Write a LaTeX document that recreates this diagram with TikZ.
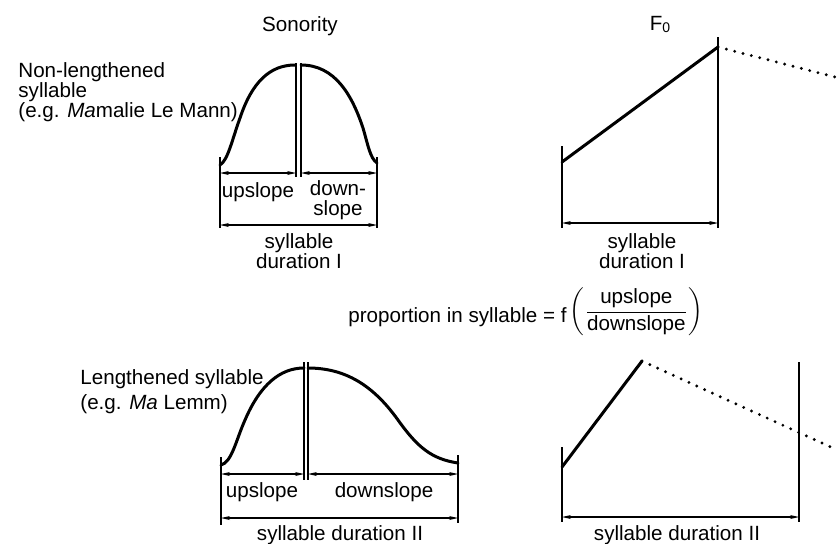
\documentclass[tikz,border=0pt]{standalone}
\usepackage{fontspec}
\setmainfont{Liberation Sans}
\usepackage{amsmath}
\usetikzlibrary{arrows.meta,positioning}

\begin{document}
\begin{tikzpicture}[
    x={(0.5pt,0)}, y={(0,-0.5pt)},
    % Style definitions
    txt/.style={font=\fontsize{10.3}{9.8}\selectfont, inner sep=0pt},
    curve/.style={line width=1.5pt, line cap=round},
    tick/.style={line width=0.6pt},
    dim/.style={{Stealth[length=4.5pt,width=2pt]}-{Stealth[length=4.5pt,width=2pt]}, line width=0.6pt},
    dotline/.style={line width=1.6pt, line cap=round, dash pattern=on 0pt off 4.3pt}
]
\useasboundingbox (0,0) rectangle (838,543);

% Titles
\node[txt, anchor=base] (sonority) at (300,31) {Sonority};
\node[txt, anchor=base] (fzero) at (660,30) {F\raisebox{-0.25ex}{\fontsize{7}{8}\selectfont 0}};

% Upper row: non-lengthened syllable
\node[txt, anchor=base west, align=left] (nonlen) at (18,117) {Non-lengthened\\syllable\\(e.g. \textit{Ma}malie Le Mann)};

\coordinate (a1) at (220,165);
\coordinate (a2) at (295,65);
\coordinate (a3) at (301,65);
\coordinate (a4) at (377,163);
\draw[curve] (a1) .. controls (228,160) and (232,140) .. (240,118) .. controls (252,82) and (270,65) .. (a2);
\draw[curve] (a3) .. controls (335,65) and (352,95) .. (363,128) .. controls (368,145) and (370,158) .. (a4);

\coordinate (aL top) at (220,157);  \coordinate (aL bot) at (220,228);
\coordinate (aR top) at (377,157);  \coordinate (aR bot) at (377,228);
\coordinate (aM1 top) at (296,63);  \coordinate (aM1 bot) at (296,177);
\coordinate (aM2 top) at (301,63);  \coordinate (aM2 bot) at (301,177);
\draw[tick] (aL top) -- (aL bot);
\draw[tick] (aR top) -- (aR bot);
\draw[tick] (aM1 top) -- (aM1 bot);
\draw[tick] (aM2 top) -- (aM2 bot);

\coordinate (aup1) at (220,173);  \coordinate (aup2) at (296,173);
\coordinate (adn1) at (301,173);  \coordinate (adn2) at (377,173);
\coordinate (adur1) at (220,225); \coordinate (adur2) at (377,225);
\draw[dim] (aup1) -- (aup2);
\draw[dim] (adn1) -- (adn2);
\draw[dim] (adur1) -- (adur2);

\node[txt, anchor=base] (aupslope) at (258,197) {upslope};
\node[txt, anchor=base, align=center] (adownslope) at (338,215) {down-\\slope};
\node[txt, anchor=base, align=center] (adur) at (299,268) {syllable\\duration I};

% Upper row: F0
\coordinate (b1) at (562,162);
\coordinate (b2) at (718,47);
\coordinate (b3) at (835,77);
\draw[curve] (b1) -- (b2);
\draw[dotline] (b2) -- (b3);

\coordinate (bL top) at (562,146);  \coordinate (bL bot) at (562,228);
\coordinate (bR top) at (718,37);   \coordinate (bR bot) at (718,228);
\draw[tick] (bL top) -- (bL bot);
\draw[tick] (bR top) -- (bR bot);
\coordinate (bdur1) at (562,223); \coordinate (bdur2) at (718,223);
\draw[dim] (bdur1) -- (bdur2);
\node[txt, anchor=base, align=center] (bdur) at (642,268) {syllable\\duration I};

% Middle: proportion formula
\node[txt, anchor=base west] (formula) at (348,322)
    {proportion in syllable = f\,\raisebox{2.5pt}{$\left(\dfrac{\text{upslope}}{\text{downslope}}\right)$}};

% Lower row: lengthened syllable
\node[txt, font=\fontsize{10.3}{12.5}\selectfont, anchor=base west, align=left] (len) at (80,409) {Lengthened syllable\\(e.g. \textit{Ma} Lemm)};

\coordinate (c1) at (221,465);
\coordinate (c2) at (304,368);
\coordinate (c3) at (308,368);
\coordinate (c4) at (458,463);
\draw[curve] (c1) .. controls (232,462) and (236,440) .. (245,420) .. controls (260,385) and (280,368) .. (c2);
\draw[curve] (c3) .. controls (345,368) and (373,385) .. (398,420) .. controls (418,448) and (432,459) .. (c4);

\coordinate (cL top) at (221,457);  \coordinate (cL bot) at (221,525);
\coordinate (cR top) at (458,455);  \coordinate (cR bot) at (458,523);
\coordinate (cM1 top) at (304,362); \coordinate (cM1 bot) at (304,480);
\coordinate (cM2 top) at (308,362); \coordinate (cM2 bot) at (308,480);
\draw[tick] (cL top) -- (cL bot);
\draw[tick] (cR top) -- (cR bot);
\draw[tick] (cM1 top) -- (cM1 bot);
\draw[tick] (cM2 top) -- (cM2 bot);

\coordinate (cup1) at (221,474);  \coordinate (cup2) at (304,474);
\coordinate (cdn1) at (308,474);  \coordinate (cdn2) at (458,474);
\coordinate (cdur1) at (221,518); \coordinate (cdur2) at (458,518);
\draw[dim] (cup1) -- (cup2);
\draw[dim] (cdn1) -- (cdn2);
\draw[dim] (cdur1) -- (cdur2);

\node[txt, anchor=base] (cupslope) at (262,497) {upslope};
\node[txt, anchor=base] (cdownslope) at (384,497) {downslope};
\node[txt, anchor=base] (cdur) at (340,540) {syllable duration II};

% Lower row: F0
\coordinate (d1) at (562,467);
\coordinate (d2) at (642,361);
\coordinate (d3) at (835,449);
\draw[curve] (d1) -- (d2);
\draw[dotline] (d2) -- (d3);

\coordinate (dL top) at (562,447);  \coordinate (dL bot) at (562,522);
\coordinate (dR top) at (799,362);  \coordinate (dR bot) at (799,522);
\draw[tick] (dL top) -- (dL bot);
\draw[tick] (dR top) -- (dR bot);
\coordinate (ddur1) at (562,517); \coordinate (ddur2) at (799,517);
\draw[dim] (ddur1) -- (ddur2);
\node[txt, anchor=base] (ddur) at (677,540) {syllable duration II};

\end{tikzpicture}
\end{document}
